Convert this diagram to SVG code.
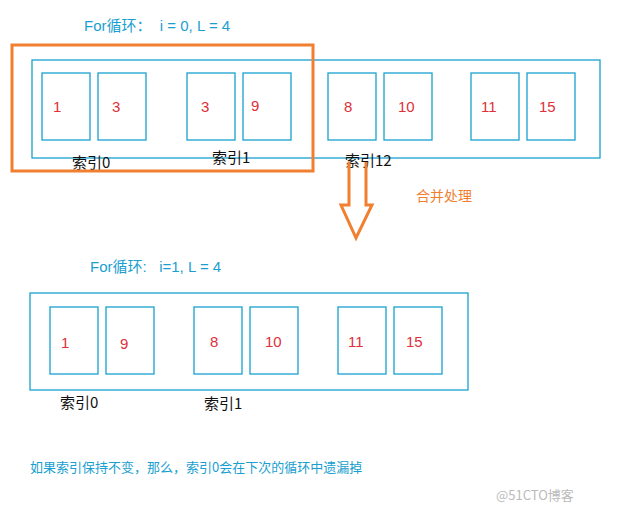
<svg xmlns="http://www.w3.org/2000/svg" width="632" height="514" viewBox="0 0 632 514">
<style>
.c{fill:none;stroke:#1aa0d0;stroke-width:1.3}
.n{font-family:"Liberation Sans","Noto Sans CJK SC",sans-serif;font-size:15px;fill:#e0303a}
.k{font-family:"Noto Sans CJK SC",sans-serif;font-size:15px;fill:#111}
.b{font-family:"Liberation Sans","Noto Sans CJK SC",sans-serif;fill:#1aa0d0;white-space:pre}
</style>
<rect width="632" height="514" fill="#fff"/>
<text class="b" x="84" y="31" font-size="15" xml:space="preserve">For循环：  i = 0, L = 4</text>
<g id="top">
<rect class="c" x="32" y="60" width="568" height="98"/>
<g id="t1"><rect class="c" x="42" y="73" width="48" height="67"/><text class="n" x="53" y="112">1</text></g>
<g id="t2"><rect class="c" x="98" y="73" width="48" height="67"/><text class="n" x="112" y="112">3</text></g>
<g id="t3"><rect class="c" x="187" y="73" width="48" height="67"/><text class="n" x="201" y="112">3</text></g>
<g id="t4"><rect class="c" x="243" y="73" width="48" height="67"/><text class="n" x="251" y="111">9</text></g>
<g id="t5"><rect class="c" x="328" y="73" width="48" height="67"/><text class="n" x="344" y="112">8</text></g>
<g id="t6"><rect class="c" x="384" y="73" width="48" height="67"/><text class="n" x="398" y="112">10</text></g>
<g id="t7"><rect class="c" x="471" y="73" width="48" height="67"/><text class="n" x="481" y="112">11</text></g>
<g id="t8"><rect class="c" x="527" y="73" width="48" height="67"/><text class="n" x="539" y="112">15</text></g>
<text class="k" x="72" y="168">索引0</text>
<text class="k" x="212" y="163">索引1</text>
<text class="k" x="345" y="166">索引12</text>
</g>
<rect id="sel" x="12" y="45" width="301" height="126" fill="none" stroke="#f08030" stroke-width="3"/>
<g id="arrow"><path d="M349 162 V205 H341 L356 238 L372 205 H366 V162" fill="none" stroke="#f08030" stroke-width="3"/></g>
<text x="416" y="201" font-family="Noto Sans CJK SC,sans-serif" font-size="14" fill="#f08030">合并处理</text>
<text class="b" x="90" y="272" font-size="15" xml:space="preserve">For循环:   i=1, L = 4</text>
<g id="bottom">
<rect class="c" x="30" y="293" width="438" height="97"/>
<g id="b1"><rect class="c" x="50" y="307" width="48" height="67"/><text class="n" x="61" y="348">1</text></g>
<g id="b2"><rect class="c" x="106" y="307" width="48" height="67"/><text class="n" x="120" y="349">9</text></g>
<g id="b3"><rect class="c" x="194" y="307" width="48" height="67"/><text class="n" x="210" y="347">8</text></g>
<g id="b4"><rect class="c" x="250" y="307" width="48" height="67"/><text class="n" x="265" y="347">10</text></g>
<g id="b5"><rect class="c" x="338" y="307" width="48" height="67"/><text class="n" x="348" y="347">11</text></g>
<g id="b6"><rect class="c" x="394" y="307" width="48" height="67"/><text class="n" x="406" y="347">15</text></g>
<text class="k" x="60" y="408">索引0</text>
<text class="k" x="204" y="409">索引1</text>
</g>
<text x="30" y="472" font-family="Noto Sans CJK SC,sans-serif" font-size="13" fill="#1aa0d0">如果索引保持不变，那么，索引0会在下次的循环中遗漏掉</text>
<text x="496" y="500" font-family="Noto Sans CJK SC,sans-serif" font-size="13" fill="#bbb">@51CTO博客</text>
</svg>
